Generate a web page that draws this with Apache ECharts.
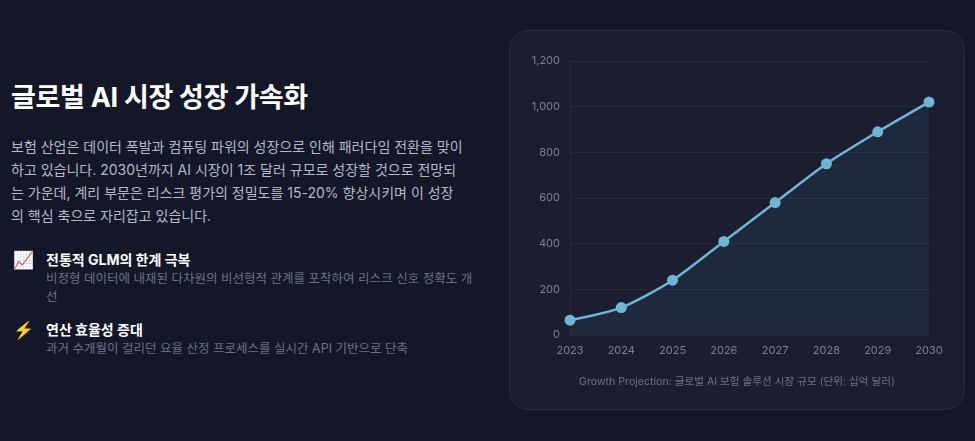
<!DOCTYPE html>
<html>
<head>
  <meta charset="utf-8">
  <title>글로벌 AI 시장 성장 가속화</title>
  <script src="https://cdn.jsdelivr.net/npm/echarts@6/dist/echarts.min.js"></script>
  <style>
    html, body {
      margin: 0;
      padding: 0;
      width: 975px;
      height: 441px;
      background: #131728;
      overflow: hidden;
      font-family: Inter, "Noto Sans CJK KR", sans-serif;
    }

    .title {
      position: absolute;
      left: 11px;
      top: 83px;
      margin: 0;
      font-size: 27px;
      line-height: 30px;
      font-weight: 700;
      color: #ffffff;
      letter-spacing: -0.3px;
    }

    .desc {
      position: absolute;
      left: 11px;
      top: 135px;
      width: 455px;
      margin: 0;
      font-size: 14px;
      line-height: 23px;
      color: #b4bac7;
    }

    .feature {
      position: absolute;
      left: 12px;
      width: 468px;
    }

    .feature .icon {
      position: absolute;
      left: 1px;
      top: 0;
      font-size: 17px;
      line-height: 20px;
    }

    .feature .head {
      margin-left: 34px;
      font-size: 14px;
      line-height: 20px;
      font-weight: 700;
      color: #ffffff;
    }

    .feature .text {
      margin-left: 34px;
      font-size: 12.5px;
      line-height: 17.5px;
      color: #6b7282;
    }

    .card {
      position: absolute;
      left: 509px;
      top: 30px;
      width: 454px;
      height: 378px;
      border: 1px solid #272d40;
      border-radius: 20px;
      background: #1a1e2f;
    }

    .card .chart {
      width: 100%;
      height: 100%;
    }
  </style>
</head>
<body>
  <h1 class="title">글로벌 AI 시장 성장 가속화</h1>
  <p class="desc">보험 산업은 데이터 폭발과 컴퓨팅 파워의 성장으로 인해 패러다임 전환을 맞이하고 있습니다. 2030년까지 AI 시장이 1조 달러 규모로 성장할 것으로 전망되는 가운데, 계리 부문은 리스크 평가의 정밀도를 15-20% 향상시키며 이 성장의 핵심 축으로 자리잡고 있습니다.</p>

  <div class="feature" style="top: 250px;">
    <div class="icon">📈</div>
    <div class="head">전통적 GLM의 한계 극복</div>
    <div class="text">비정형 데이터에 내재된 다차원의 비선형적 관계를 포착하여 리스크 신호 정확도 개선</div>
  </div>
  <div class="feature" style="top: 320px;">
    <div class="icon">⚡</div>
    <div class="head">연산 효율성 증대</div>
    <div class="text">과거 수개월이 걸리던 요율 산정 프로세스를 실시간 API 기반으로 단축</div>
  </div>

  <div class="card">
    <div class="chart" id="chart"></div>
  </div>

  <script>
    var years = ['2023', '2024', '2025', '2026', '2027', '2028', '2029', '2030'];
    var marketSize = [65, 120, 240, 410, 580, 750, 890, 1020];
    var yTicks = [0, 200, 400, 600, 800, 1000, 1200];
    var caption = 'Growth Projection: 글로벌 AI 보험 솔루션 시장 규모 (단위: 십억 달러)';

    var chart = echarts.init(document.getElementById('chart'));
    var option = {
      backgroundColor: 'transparent',
      textStyle: { fontFamily: 'Inter, "Noto Sans CJK KR", sans-serif' },
      title: {
        text: caption,
        left: 'center',
        bottom: 17,
        textStyle: { color: '#6b7282', fontSize: 10.6, fontWeight: 'normal' }
      },
      grid: { left: 60, right: 35, top: 30, bottom: 74 },
      xAxis: {
        type: 'category',
        data: years,
        boundaryGap: false,
        axisLine: { show: false },
        axisTick: { show: false },
        axisLabel: { color: '#7a8090', fontSize: 11, margin: 10 }
      },
      yAxis: {
        type: 'value',
        min: yTicks[0],
        max: yTicks[yTicks.length - 1],
        interval: 200,
        axisLine: { show: true, lineStyle: { color: '#252b3c' } },
        axisTick: { show: false },
        splitLine: { lineStyle: { color: '#252b3c' } },
        axisLabel: {
          color: '#7a8090',
          fontSize: 11,
          margin: 10,
          formatter: function (v) { return v.toLocaleString('en-US'); }
        }
      },
      series: [{
        type: 'line',
        data: marketSize,
        smooth: 0.25,
        symbol: 'circle',
        symbolSize: 11,
        lineStyle: { color: '#6cb6d6', width: 2.5 },
        itemStyle: { color: '#6cb6d6' },
        areaStyle: { color: 'rgba(108, 182, 214, 0.11)' }
      }]
    };
    chart.setOption(option);
  </script>
</body>
</html>
